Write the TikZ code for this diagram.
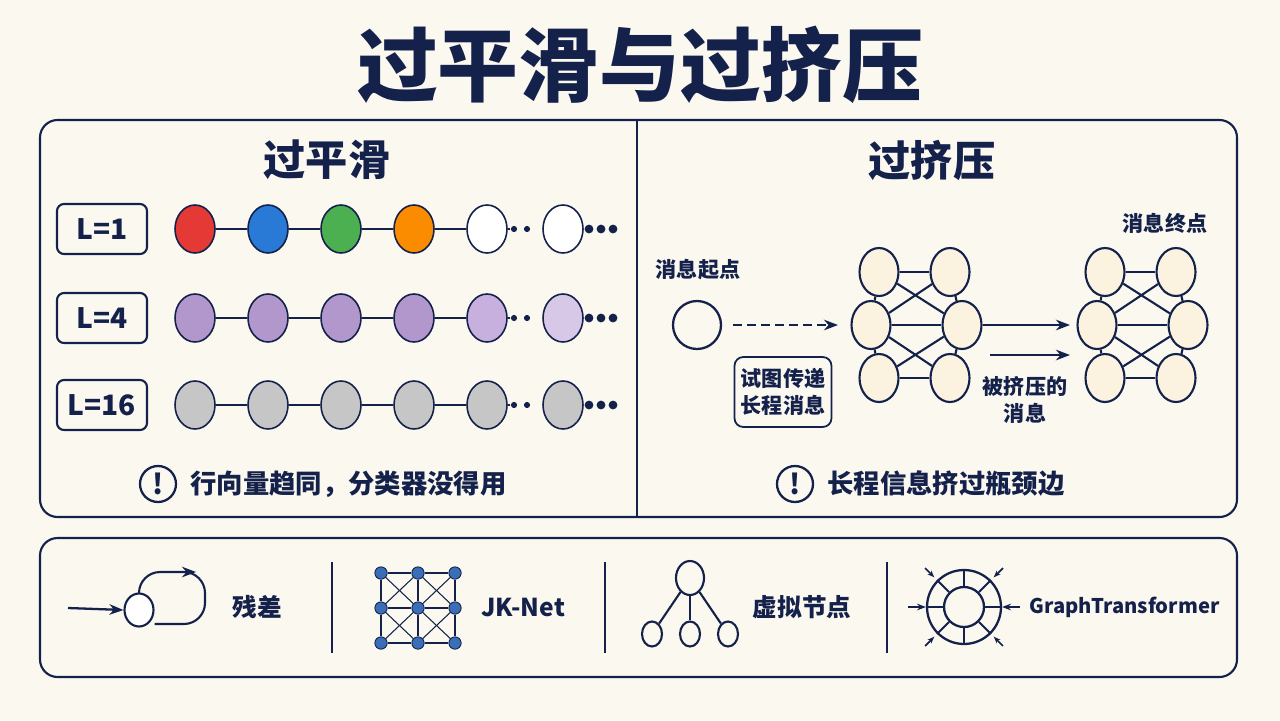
\documentclass[tikz,border=0pt]{standalone}
\usepackage{fontspec}
\setmainfont{Noto Sans CJK SC}
\usetikzlibrary{shapes.geometric,arrows.meta,positioning,calc}
\definecolor{navy}{HTML}{14214A}
\definecolor{cream}{HTML}{FBF8F0}
\definecolor{nodefill}{HTML}{FBF3E0}
\definecolor{jkblue}{HTML}{3A6FB8}
\definecolor{cA}{HTML}{E53935}
\definecolor{cB}{HTML}{2979D6}
\definecolor{cC}{HTML}{4CAF50}
\definecolor{cD}{HTML}{FB8C00}
\definecolor{pA}{HTML}{B297CC}
\definecolor{pB}{HTML}{C8B0DE}
\definecolor{pC}{HTML}{D8C8E8}
\definecolor{gA}{HTML}{C6C6C6}
\begin{document}
\begin{tikzpicture}
[
    x=0.02cm, y=-0.02cm,
    every node/.style={text=navy, font=\bfseries},
    panel/.style={draw=navy, line width=1.2pt, rounded corners=10pt},
    tag/.style={draw=navy, line width=1.2pt, rounded corners=4pt, minimum width=1.8cm, minimum height=1cm, font=\bfseries\fontsize{16}{16}\selectfont},
    bead/.style={ellipse, draw=navy, line width=0.9pt, minimum width=0.8cm, minimum height=0.96cm, inner sep=0pt},
    net/.style={ellipse, draw=navy, line width=1.2pt, fill=nodefill, minimum width=0.78cm, minimum height=0.96cm, inner sep=0pt},
    small/.style={font=\bfseries\fontsize{12}{15}\selectfont, align=center},
    dot/.style={circle, fill=navy, inner sep=0pt, minimum size=5pt},
    link/.style={draw=navy, line width=1.2pt},
    >={Stealth[length=8pt]},
]
\useasboundingbox[fill=cream] (0,0) rectangle (1280,720);
% title
\node (title) at (640,65) {\fontsize{46}{46}\selectfont 过平滑与过挤压};
% upper frame
\draw[panel] (40,120) rectangle (1237,517);
\draw[navy, line width=1.2pt] (637,120) -- (637,517);
\node (tl) at (327,160) {\fontsize{24}{24}\selectfont 过平滑};
\node (tr) at (932,160) {\fontsize{24}{24}\selectfont 过挤压};
% over-smoothing rows
\foreach \r/\y/\txt/\ca/\cb/\cc/\cd/\ce/\cf in
    {1/229/L=1/cA/cB/cC/cD/white/white,
     2/318/L=4/pA/pA/pA/pA/pB/pC,
     3/405/L=16/gA/gA/gA/gA/gA/gA}
{
    \node[tag] (t\r) at (102,\y) {\txt};
    \foreach \i/\x/\c in {1/195/\ca,2/268/\cb,3/341/\cc,4/414/\cd,5/487/\ce,6/563/\cf}
        \node[bead, fill=\c] (b\r\i) at (\x,\y) {};
    \foreach \i/\j in {1/2,2/3,3/4,4/5}
        \draw[navy, line width=0.9pt] (b\r\i) -- (b\r\j);
    \coordinate (g\r) at (510,\y);
    \draw[navy, line width=0.9pt] (b\r5) -- (g\r);
    \node[dot, minimum size=3.5pt] (e\r) at (514,\y) {};
    \node[dot, minimum size=3.5pt] (f\r) at (527,\y) {};
    \foreach \k/\x in {1/589,2/601,3/613}
        \node[dot] (d\r\k) at (\x,\y) {};
}
\node[circle, draw=navy, line width=1.3pt, minimum size=0.72cm, inner sep=0pt] (w1) at (158,484) {\fontsize{16}{16}\selectfont !};
\node[right=4pt of w1] (w1t) {\fontsize{15}{15}\selectfont 行向量趋同，分类器没得用};
% over-squashing
\node[small] (src) at (698,270) {消息起点};
\node[circle, draw=navy, line width=1.3pt, minimum size=0.96cm] (s) at (697,325) {};
\node[small, draw=navy, line width=1pt, rounded corners=5pt, minimum width=1.94cm, minimum height=1.4cm] (try) at (783,392) {试图传递\\长程消息};
\foreach \n/\dx in {1/0,2/226}
{
    \node[net] (a\n) at (879+\dx,272) {};
    \node[net] (b\n) at (950+\dx,272) {};
    \node[net] (c\n) at (871+\dx,325) {};
    \node[net] (d\n) at (962+\dx,325) {};
    \node[net] (e\n) at (879+\dx,378) {};
    \node[net] (f\n) at (950+\dx,378) {};
    \foreach \u/\v in {a/b,c/d,e/f,a/c,b/d,c/e,d/f,a/d,b/c,c/f,d/e}
        \draw[link] (\u\n) -- (\v\n);
}
\coordinate (s1) at (733,325);
\draw[navy, line width=1.3pt, dash pattern=on 5pt off 3pt, ->] (s1) -- (838,325);
\draw[navy, line width=1.3pt, ->] (d1) -- (1070,325);
\coordinate (q1) at (990,355);
\draw[navy, line width=1.3pt, ->] (q1) -- (1070,355);
\node[small] (sq) at (1025,400) {被挤压的\\消息};
\node[small] (dst) at (1165,223) {消息终点};
\node[circle, draw=navy, line width=1.3pt, minimum size=0.72cm, inner sep=0pt] (w2) at (795,484) {\fontsize{16}{16}\selectfont !};
\node[right=4pt of w2] (w2t) {\fontsize{15}{15}\selectfont 长程信息挤过瓶颈边};
% lower frame
\draw[panel] (40,538) rectangle (1237,677);
\foreach \x in {332,605,887}
    \draw[navy, line width=1.2pt] (\x,562) -- (\x,653);
% residual
\node[ellipse, draw=navy, line width=1.2pt, fill=white, minimum width=0.58cm, minimum height=0.66cm, inner sep=0pt] (res) at (139,610) {};
\coordinate (r0) at (68,608);
\draw[navy, line width=1.3pt, ->] (r0) -- (res.west);
\draw[navy, line width=1.2pt, rounded corners=12pt] (res.north) -- (139,572) -- (205,572) -- (205,624) -- (res.east |- 0,624);
\draw[navy, line width=1.2pt, ->] (170,572) -- (196,572);
\node (resl) at (257,607) {\fontsize{14}{14}\selectfont 残差};
% jk-net
\foreach \i/\x in {1/381,2/418,3/455}
    \foreach \j/\y in {1/573,2/608,3/643}
        \node[circle, fill=jkblue, draw=navy, line width=0.5pt, inner sep=0pt, minimum size=7pt] (j\i\j) at (\x,\y) {};
\foreach \i/\k in {1/2,2/3}
    \foreach \j/\l in {1/2,2/3}
    {
        \draw[navy, line width=0.6pt] (j\i\j) -- (j\k\l);
        \draw[navy, line width=0.6pt] (j\k\j) -- (j\i\l);
    }
\foreach \i in {1,2,3}
{
    \draw[navy, line width=0.8pt] (j\i1) -- (j\i2) -- (j\i3);
    \draw[navy, line width=0.8pt] (j1\i) -- (j2\i) -- (j3\i);
}
\node (jkl) at (523,607) {\fontsize{14}{14}\selectfont JK-Net};
% virtual node
\node[ellipse, draw=navy, line width=1.2pt, minimum width=0.56cm, minimum height=0.68cm, inner sep=0pt] (v0) at (690,578) {};
\foreach \k/\x in {1/652,2/690,3/728}
{
    \node[ellipse, draw=navy, line width=1.2pt, minimum width=0.4cm, minimum height=0.5cm, inner sep=0pt] (v\k) at (\x,634) {};
    \draw[navy, line width=1.2pt] (v0) -- (v\k);
}
\node (vl) at (802,607) {\fontsize{14}{14}\selectfont 虚拟节点};
% graph transformer
\node[circle, draw=navy, line width=1.3pt, minimum size=1.48cm, inner sep=0pt] (go) at (964,607) {};
\node[circle, draw=navy, line width=1.3pt, minimum size=0.8cm, inner sep=0pt] (gi) at (964,607) {};
\foreach \a in {0,45,...,315}
    \draw[navy, line width=1.1pt] (gi.\a) -- (go.\a);
\coordinate (gl) at (908,607);
\coordinate (gr) at (1020,607);
\draw[navy, line width=1.1pt, -{Stealth[length=5pt]}] (gl) -- (go.west);
\draw[navy, line width=1.1pt, -{Stealth[length=5pt]}] (gr) -- (go.east);
\foreach \a in {45,135,225,315}
{
    \coordinate (gx\a) at ($(964,607)+(\a:55)$);
    \draw[navy, line width=1pt, -{Stealth[length=4pt]}] (gx\a) -- ($(964,607)+(\a:42)$);
}
\node[anchor=west, inner xsep=2pt] (gtl) at (1026,607) {\fontsize{11.5}{14}\selectfont GraphTransformer};
\end{tikzpicture}
\end{document}
